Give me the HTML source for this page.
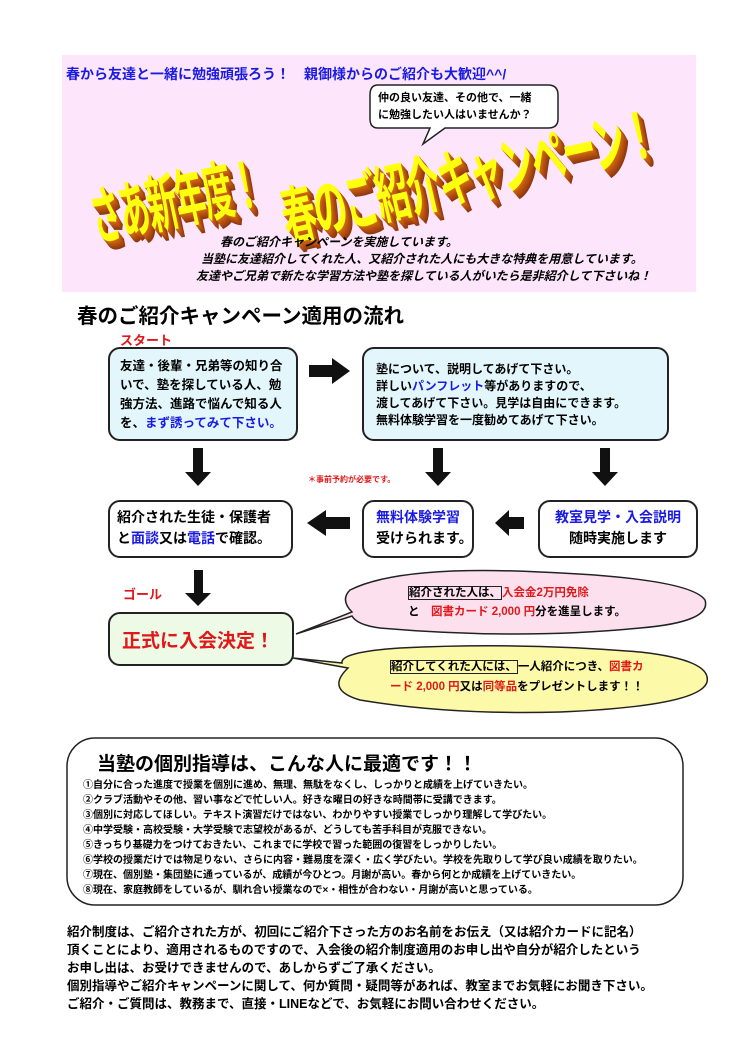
<!DOCTYPE html>
<html><head><meta charset="utf-8"><style>
body{margin:0;width:750px;height:1061px;background:#fff;position:relative;overflow:hidden;font-family:"Liberation Sans","Noto Sans CJK JP",sans-serif;font-weight:bold;color:#000}
.a{position:absolute;white-space:nowrap}
.box{position:absolute;border:2px solid #222;border-radius:12px;box-sizing:border-box}
.blue{color:#1a1ae0}.red{color:#e01818}
.big{font-size:60px;color:#ffff10;transform-origin:left bottom;letter-spacing:-3px;
text-shadow:1px 1px #d06a10,2px 2px #c86010,3px 3px #c05a10,4px 4px #b85410,5px 5px #b04e10,6px 6px #a84810,7px 7px #a04210,8px 8px #983c10,9px 9px #903610}
.li{font-size:10px;left:83px}
.bt{font-size:12.5px;left:67px}
</style></head><body>
<div class="a" style="left:62px;top:55px;width:634px;height:237px;background:#fde6fb"></div>
<div class="a blue" style="left:66px;top:64px;font-size:14px">春から友達と一緒に勉強頑張ろう！　親御様からのご紹介も大歓迎^^/</div>
<svg class="a" style="left:360px;top:82px" width="205" height="70"><path d="M18 3 H188 Q198 3 198 13 V37 Q198 46 188 46 H85 L63 62 L70 46 H18 Q10 46 10 37 V13 Q10 3 18 3 Z" fill="#fff" stroke="#222" stroke-width="1.5"/></svg>
<div class="a" style="left:378px;top:90px;font-size:11px;line-height:17px">仲の良い友達、その他で、一緒<br>に勉強したい人はいませんか？</div>
<div class="a big" style="left:100px;top:172px;transform:rotate(-12deg) scaleX(.5) scaleY(1.05)">さあ新年度！</div>
<div class="a big" style="left:292px;top:172px;transform:rotate(-13deg) scaleX(.56) scaleY(1.05)">春のご紹介キャンペーン！</div>
<div class="a" style="left:220px;top:233px;font-size:12px;font-style:italic">春のご紹介キャンペーンを実施しています。</div>
<div class="a" style="left:201px;top:250px;font-size:12px;font-style:italic">当塾に友達紹介してくれた人、又紹介された人にも大きな特典を用意しています。</div>
<div class="a" style="left:196px;top:267px;font-size:12px;font-style:italic">友達やご兄弟で新たな学習方法や塾を探している人がいたら是非紹介して下さいね！</div>

<div class="a" style="left:77px;top:299px;font-size:20.5px">春のご紹介キャンペーン適用の流れ</div>
<div class="a red" style="left:120px;top:330px;font-size:13px">スタート</div>
<div class="box" style="left:108px;top:347px;width:190px;height:94px;background:#e2f6fb"></div>
<div class="a" style="left:120px;top:357px;font-size:12.5px;line-height:19px">友達・後輩・兄弟等の知り合<br>いで、塾を探している人、勉<br>強方法、進路で悩んで知る人<br>を、<span class="blue">まず誘ってみて下さい。</span></div>
<div class="box" style="left:362px;top:347px;width:307px;height:94px;background:#e2f6fb"></div>
<div class="a" style="left:376px;top:361px;font-size:12px;line-height:17px">塾について、説明してあげて下さい。<br>詳しい<span class="blue">パンフレット</span>等がありますので、<br>渡してあげて下さい。見学は自由にできます。<br>無料体験学習を一度勧めてあげて下さい。</div>
<svg class="a" style="left:0;top:0" width="750" height="1061">
<g fill="#111">
<polygon points="309,365 332,365 332,358 350,371 332,384 332,377 309,377"/>
<polygon points="193,448 203,448 203,472 211,472 198,486 185,472 193,472"/>
<polygon points="433,448 443,448 443,472 451,472 438,486 425,472 433,472"/>
<polygon points="600,448 610,448 610,472 618,472 605,486 592,472 600,472"/>
<polygon points="350,517 326,517 326,510 307,523 326,536 326,529 350,529"/>
<polygon points="524,517 509,517 509,510 495,523 509,536 509,529 524,529"/>
<polygon points="194,570 203,570 203,593 211,593 198,606 185,593 194,593"/>
</g>
<path d="M296 634 L352 612 Q340 600 350 590 Q400 565 540 572 Q690 578 705 600 Q712 622 640 628 Q520 640 380 628 Q357 625 352 616 Z" fill="#fde0ee" stroke="#222" stroke-width="1.5"/>
<path d="M293 658 L348 668 Q325 690 360 700 Q450 715 560 712 Q700 706 707 682 Q712 660 640 652 Q520 642 400 648 Q340 652 342 663 Z" fill="#fcfaa8" stroke="#222" stroke-width="1.5"/>
<rect x="67" y="738" width="616" height="167" rx="28" fill="none" stroke="#222" stroke-width="1.5"/>
</svg>
<div class="a red" style="left:308px;top:474px;font-size:8px">＊事前予約が必要です。</div>
<div class="box" style="left:108px;top:500px;width:185px;height:58px"></div>
<div class="a" style="left:117px;top:507px;font-size:14px;line-height:21px">紹介された生徒・保護者<br>と<span class="blue">面談</span>又は<span class="blue">電話</span>で確認。</div>
<div class="box" style="left:362px;top:500px;width:112px;height:58px"></div>
<div class="a" style="left:376px;top:507px;font-size:14px;line-height:21px"><span class="blue">無料体験学習</span><br>受けられます。</div>
<div class="box" style="left:538px;top:500px;width:160px;height:58px"></div>
<div class="a" style="left:548px;top:507px;font-size:14px;line-height:21px;text-align:center;width:140px"><span class="blue">教室見学・入会説明</span><br>随時実施します</div>
<div class="a red" style="left:123px;top:584px;font-size:13px">ゴール</div>
<div class="box" style="left:108px;top:612px;width:186px;height:54px;background:#edfae6"></div>
<div class="a red" style="left:122px;top:626px;font-size:19px">正式に入会決定！</div>
<div class="a" style="left:408px;top:584px;font-size:11.5px;line-height:19px"><span style="border:1px solid #222">紹介された人は、</span><span class="red">入会金2万円免除</span><br>と　<span class="red">図書カード 2,000 円</span>分を進呈します。</div>
<div class="a" style="left:390px;top:657px;font-size:11.5px;line-height:20px"><span style="border:1px solid #222">紹介してくれた人には、</span>一人紹介につき、<span class="red">図書カ</span><br><span class="red">ード 2,000 円</span>又は<span class="red">同等品</span>をプレゼントします！！</div>

<div class="a" style="left:97px;top:749px;font-size:19px">当塾の個別指導は、こんな人に最適です！！</div>
<div class="a li" style="top:776px">①自分に合った進度で授業を個別に進め、無理、無駄をなくし、しっかりと成績を上げていきたい。</div>
<div class="a li" style="top:791px">②クラブ活動やその他、習い事などで忙しい人。好きな曜日の好きな時間帯に受講できます。</div>
<div class="a li" style="top:806px">③個別に対応してほしい。テキスト演習だけではない、わかりやすい授業でしっかり理解して学びたい。</div>
<div class="a li" style="top:821px">④中学受験・高校受験・大学受験で志望校があるが、どうしても苦手科目が克服できない。</div>
<div class="a li" style="top:836px">⑤きっちり基礎力をつけておきたい、これまでに学校で習った範囲の復習をしっかりしたい。</div>
<div class="a li" style="top:851px">⑥学校の授業だけでは物足りない、さらに内容・難易度を深く・広く学びたい。学校を先取りして学び良い成績を取りたい。</div>
<div class="a li" style="top:866px">⑦現在、個別塾・集団塾に通っているが、成績が今ひとつ。月謝が高い。春から何とか成績を上げていきたい。</div>
<div class="a li" style="top:881px">⑧現在、家庭教師をしているが、馴れ合い授業なので×・相性が合わない・月謝が高いと思っている。</div>

<div class="a bt" style="top:921px">紹介制度は、ご紹介された方が、初回にご紹介下さった方のお名前をお伝え（又は紹介カードに記名）</div>
<div class="a bt" style="top:939px">頂くことにより、適用されるものですので、入会後の紹介制度適用のお申し出や自分が紹介したという</div>
<div class="a bt" style="top:957px">お申し出は、お受けできませんので、あしからずご了承ください。</div>
<div class="a bt" style="top:975px">個別指導やご紹介キャンペーンに関して、何か質問・疑問等があれば、教室までお気軽にお聞き下さい。</div>
<div class="a bt" style="top:993px">ご紹介・ご質問は、教務まで、直接・LINEなどで、お気軽にお問い合わせください。</div>
</body></html>
